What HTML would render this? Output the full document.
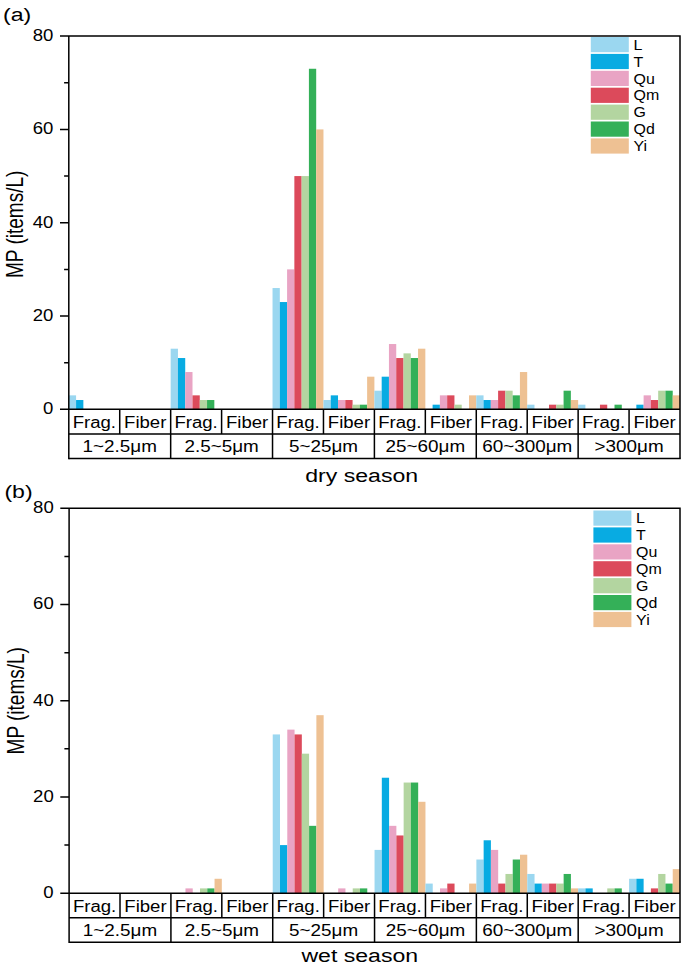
<!DOCTYPE html>
<html><head><meta charset="utf-8"><title>MP abundance by size</title>
<style>
html,body{margin:0;padding:0;background:#fff;}
body{width:685px;height:971px;overflow:hidden;}
svg{display:block;}
text{font-family:"Liberation Sans",sans-serif;fill:#000;}
</style></head>
<body>
<svg width="685" height="971" viewBox="0 0 685 971">
<rect width="685" height="971" fill="#fff"/>
<rect x="68.80" y="395.35" width="7.28" height="14.00" fill="#9BD7F0"/>
<rect x="76.08" y="400.02" width="7.28" height="9.33" fill="#08ABE2"/>
<rect x="170.67" y="348.70" width="7.28" height="60.65" fill="#9BD7F0"/>
<rect x="177.94" y="358.03" width="7.28" height="51.32" fill="#08ABE2"/>
<rect x="185.22" y="372.03" width="7.28" height="37.33" fill="#E9A4C4"/>
<rect x="192.50" y="395.35" width="7.28" height="14.00" fill="#DC4A5B"/>
<rect x="199.77" y="400.02" width="7.28" height="9.33" fill="#B3D5A0"/>
<rect x="207.05" y="400.02" width="7.28" height="9.33" fill="#34B058"/>
<rect x="272.53" y="288.04" width="7.28" height="121.31" fill="#9BD7F0"/>
<rect x="279.81" y="302.04" width="7.28" height="107.31" fill="#08ABE2"/>
<rect x="287.09" y="269.38" width="7.28" height="139.97" fill="#E9A4C4"/>
<rect x="294.36" y="176.07" width="7.28" height="233.28" fill="#DC4A5B"/>
<rect x="301.64" y="176.07" width="7.28" height="233.28" fill="#B3D5A0"/>
<rect x="308.91" y="68.76" width="7.28" height="340.59" fill="#34B058"/>
<rect x="316.19" y="129.41" width="7.28" height="279.94" fill="#EEC193"/>
<rect x="323.47" y="400.02" width="7.28" height="9.33" fill="#9BD7F0"/>
<rect x="330.74" y="395.35" width="7.28" height="14.00" fill="#08ABE2"/>
<rect x="338.02" y="400.02" width="7.28" height="9.33" fill="#E9A4C4"/>
<rect x="345.30" y="400.02" width="7.28" height="9.33" fill="#DC4A5B"/>
<rect x="352.57" y="404.68" width="7.28" height="4.67" fill="#B3D5A0"/>
<rect x="359.85" y="404.68" width="7.28" height="4.67" fill="#34B058"/>
<rect x="367.12" y="376.69" width="7.28" height="32.66" fill="#EEC193"/>
<rect x="374.40" y="390.69" width="7.28" height="18.66" fill="#9BD7F0"/>
<rect x="381.68" y="376.69" width="7.28" height="32.66" fill="#08ABE2"/>
<rect x="388.95" y="344.03" width="7.28" height="65.32" fill="#E9A4C4"/>
<rect x="396.23" y="358.03" width="7.28" height="51.32" fill="#DC4A5B"/>
<rect x="403.50" y="353.36" width="7.28" height="55.99" fill="#B3D5A0"/>
<rect x="410.78" y="358.03" width="7.28" height="51.32" fill="#34B058"/>
<rect x="418.06" y="348.70" width="7.28" height="60.65" fill="#EEC193"/>
<rect x="432.61" y="404.68" width="7.28" height="4.67" fill="#08ABE2"/>
<rect x="439.89" y="395.35" width="7.28" height="14.00" fill="#E9A4C4"/>
<rect x="447.16" y="395.35" width="7.28" height="14.00" fill="#DC4A5B"/>
<rect x="454.44" y="404.68" width="7.28" height="4.67" fill="#B3D5A0"/>
<rect x="468.99" y="395.35" width="7.28" height="14.00" fill="#EEC193"/>
<rect x="476.27" y="395.35" width="7.28" height="14.00" fill="#9BD7F0"/>
<rect x="483.54" y="400.02" width="7.28" height="9.33" fill="#08ABE2"/>
<rect x="490.82" y="400.02" width="7.28" height="9.33" fill="#E9A4C4"/>
<rect x="498.10" y="390.69" width="7.28" height="18.66" fill="#DC4A5B"/>
<rect x="505.37" y="390.69" width="7.28" height="18.66" fill="#B3D5A0"/>
<rect x="512.65" y="395.35" width="7.28" height="14.00" fill="#34B058"/>
<rect x="519.92" y="372.03" width="7.28" height="37.33" fill="#EEC193"/>
<rect x="527.20" y="404.68" width="7.28" height="4.67" fill="#9BD7F0"/>
<rect x="549.03" y="404.68" width="7.28" height="4.67" fill="#DC4A5B"/>
<rect x="556.30" y="404.68" width="7.28" height="4.67" fill="#B3D5A0"/>
<rect x="563.58" y="390.69" width="7.28" height="18.66" fill="#34B058"/>
<rect x="570.86" y="400.02" width="7.28" height="9.33" fill="#EEC193"/>
<rect x="578.13" y="404.68" width="7.28" height="4.67" fill="#9BD7F0"/>
<rect x="599.96" y="404.68" width="7.28" height="4.67" fill="#DC4A5B"/>
<rect x="614.51" y="404.68" width="7.28" height="4.67" fill="#34B058"/>
<rect x="636.34" y="404.68" width="7.28" height="4.67" fill="#08ABE2"/>
<rect x="643.62" y="395.35" width="7.28" height="14.00" fill="#E9A4C4"/>
<rect x="650.90" y="400.02" width="7.28" height="9.33" fill="#DC4A5B"/>
<rect x="658.17" y="390.69" width="7.28" height="18.66" fill="#B3D5A0"/>
<rect x="665.45" y="390.69" width="7.28" height="18.66" fill="#34B058"/>
<rect x="672.72" y="395.35" width="7.28" height="14.00" fill="#EEC193"/>
<rect x="590.80" y="37.00" width="38" height="15.2" fill="#9BD7F0"/>
<text transform="translate(633.50,49.70) scale(1.14,1)" font-size="14" text-anchor="start">L</text>
<rect x="590.80" y="53.90" width="38" height="15.2" fill="#08ABE2"/>
<text transform="translate(633.50,66.60) scale(1.14,1)" font-size="14" text-anchor="start">T</text>
<rect x="590.80" y="70.80" width="38" height="15.2" fill="#E9A4C4"/>
<text transform="translate(633.50,83.50) scale(1.14,1)" font-size="14" text-anchor="start">Qu</text>
<rect x="590.80" y="87.70" width="38" height="15.2" fill="#DC4A5B"/>
<text transform="translate(633.50,100.40) scale(1.14,1)" font-size="14" text-anchor="start">Qm</text>
<rect x="590.80" y="104.60" width="38" height="15.2" fill="#B3D5A0"/>
<text transform="translate(633.50,117.30) scale(1.14,1)" font-size="14" text-anchor="start">G</text>
<rect x="590.80" y="121.50" width="38" height="15.2" fill="#34B058"/>
<text transform="translate(633.50,134.20) scale(1.14,1)" font-size="14" text-anchor="start">Qd</text>
<rect x="590.80" y="138.40" width="38" height="15.2" fill="#EEC193"/>
<text transform="translate(633.50,151.10) scale(1.14,1)" font-size="14" text-anchor="start">Yi</text>
<g stroke="#000" stroke-width="1.5" fill="none" stroke-linecap="butt">
<path d="M60.00,36.10 H680.75 M680.00,36.10 V458.50 M68.80,35.35 V459.25"/>
<path d="M60.00,409.35 H680.00 M68.80,433.90 H680.00 M68.80,458.50 H680.75"/>
<path d="M60.00,316.04 H68.80 M60.00,222.73 H68.80 M60.00,129.41 H68.80 M64.10,362.69 H68.80 M64.10,269.38 H68.80 M64.10,176.07 H68.80 M64.10,82.76 H68.80 "/>
<path d="M119.73,409.35 V433.90 M170.67,409.35 V458.50 M221.60,409.35 V433.90 M272.53,409.35 V458.50 M323.47,409.35 V433.90 M374.40,409.35 V458.50 M425.33,409.35 V433.90 M476.27,409.35 V458.50 M527.20,409.35 V433.90 M578.13,409.35 V458.50 M629.07,409.35 V433.90 "/>
</g>
<text transform="translate(53.40,414.25) scale(1.16,1)" font-size="16" text-anchor="end">0</text>
<text transform="translate(53.40,320.94) scale(1.16,1)" font-size="16" text-anchor="end">20</text>
<text transform="translate(53.40,227.63) scale(1.16,1)" font-size="16" text-anchor="end">40</text>
<text transform="translate(53.40,134.31) scale(1.16,1)" font-size="16" text-anchor="end">60</text>
<text transform="translate(53.40,41.00) scale(1.16,1)" font-size="16" text-anchor="end">80</text>
<text transform="translate(94.27,427.62) scale(1.16,1)" font-size="16" text-anchor="middle">Frag.</text>
<text transform="translate(145.20,427.62) scale(1.16,1)" font-size="16" text-anchor="middle">Fiber</text>
<text transform="translate(196.13,427.62) scale(1.16,1)" font-size="16" text-anchor="middle">Frag.</text>
<text transform="translate(247.07,427.62) scale(1.16,1)" font-size="16" text-anchor="middle">Fiber</text>
<text transform="translate(298.00,427.62) scale(1.16,1)" font-size="16" text-anchor="middle">Frag.</text>
<text transform="translate(348.93,427.62) scale(1.16,1)" font-size="16" text-anchor="middle">Fiber</text>
<text transform="translate(399.87,427.62) scale(1.16,1)" font-size="16" text-anchor="middle">Frag.</text>
<text transform="translate(450.80,427.62) scale(1.16,1)" font-size="16" text-anchor="middle">Fiber</text>
<text transform="translate(501.73,427.62) scale(1.16,1)" font-size="16" text-anchor="middle">Frag.</text>
<text transform="translate(552.67,427.62) scale(1.16,1)" font-size="16" text-anchor="middle">Fiber</text>
<text transform="translate(603.60,427.62) scale(1.16,1)" font-size="16" text-anchor="middle">Frag.</text>
<text transform="translate(654.53,427.62) scale(1.16,1)" font-size="16" text-anchor="middle">Fiber</text>
<text transform="translate(119.73,452.20) scale(1.18,1)" font-size="16" text-anchor="middle">1~2.5μm</text>
<text transform="translate(221.60,452.20) scale(1.18,1)" font-size="16" text-anchor="middle">2.5~5μm</text>
<text transform="translate(323.47,452.20) scale(1.18,1)" font-size="16" text-anchor="middle">5~25μm</text>
<text transform="translate(425.33,452.20) scale(1.18,1)" font-size="16" text-anchor="middle">25~60μm</text>
<text transform="translate(527.20,452.20) scale(1.18,1)" font-size="16" text-anchor="middle">60~300μm</text>
<text transform="translate(629.07,452.20) scale(1.18,1)" font-size="16" text-anchor="middle">>300μm</text>
<text transform="translate(3.00,20.90) scale(1.215,1)" font-size="19" text-anchor="start">(a)</text>
<text transform="translate(361.70,481.90) scale(1.215,1)" font-size="19" text-anchor="middle">dry season</text>
<text transform="translate(23.05,224.33) scale(1.215,1) rotate(-90)" font-size="19" text-anchor="middle">MP (items/L)</text>
<rect x="185.46" y="888.39" width="7.27" height="4.81" fill="#E9A4C4"/>
<rect x="200.01" y="888.39" width="7.27" height="4.81" fill="#B3D5A0"/>
<rect x="207.28" y="888.39" width="7.27" height="4.81" fill="#34B058"/>
<rect x="214.55" y="878.77" width="7.27" height="14.43" fill="#EEC193"/>
<rect x="272.73" y="734.43" width="7.27" height="158.77" fill="#9BD7F0"/>
<rect x="280.01" y="845.09" width="7.27" height="48.11" fill="#08ABE2"/>
<rect x="287.28" y="729.62" width="7.27" height="163.58" fill="#E9A4C4"/>
<rect x="294.55" y="734.43" width="7.27" height="158.77" fill="#DC4A5B"/>
<rect x="301.82" y="753.67" width="7.27" height="139.53" fill="#B3D5A0"/>
<rect x="309.10" y="825.84" width="7.27" height="67.36" fill="#34B058"/>
<rect x="316.37" y="715.18" width="7.27" height="178.02" fill="#EEC193"/>
<rect x="338.19" y="888.39" width="7.27" height="4.81" fill="#E9A4C4"/>
<rect x="352.73" y="888.39" width="7.27" height="4.81" fill="#B3D5A0"/>
<rect x="360.00" y="888.39" width="7.27" height="4.81" fill="#34B058"/>
<rect x="374.55" y="849.90" width="7.27" height="43.30" fill="#9BD7F0"/>
<rect x="381.82" y="777.73" width="7.27" height="115.47" fill="#08ABE2"/>
<rect x="389.10" y="825.84" width="7.27" height="67.36" fill="#E9A4C4"/>
<rect x="396.37" y="835.47" width="7.27" height="57.73" fill="#DC4A5B"/>
<rect x="403.64" y="782.54" width="7.27" height="110.66" fill="#B3D5A0"/>
<rect x="410.91" y="782.54" width="7.27" height="110.66" fill="#34B058"/>
<rect x="418.19" y="801.79" width="7.27" height="91.41" fill="#EEC193"/>
<rect x="425.46" y="883.58" width="7.27" height="9.62" fill="#9BD7F0"/>
<rect x="440.00" y="888.39" width="7.27" height="4.81" fill="#E9A4C4"/>
<rect x="447.28" y="883.58" width="7.27" height="9.62" fill="#DC4A5B"/>
<rect x="469.09" y="883.58" width="7.27" height="9.62" fill="#EEC193"/>
<rect x="476.37" y="859.52" width="7.27" height="33.68" fill="#9BD7F0"/>
<rect x="483.64" y="840.28" width="7.27" height="52.92" fill="#08ABE2"/>
<rect x="490.91" y="849.90" width="7.27" height="43.30" fill="#E9A4C4"/>
<rect x="498.18" y="883.58" width="7.27" height="9.62" fill="#DC4A5B"/>
<rect x="505.46" y="873.96" width="7.27" height="19.25" fill="#B3D5A0"/>
<rect x="512.73" y="859.52" width="7.27" height="33.68" fill="#34B058"/>
<rect x="520.00" y="854.71" width="7.27" height="38.49" fill="#EEC193"/>
<rect x="527.27" y="873.96" width="7.27" height="19.25" fill="#9BD7F0"/>
<rect x="534.55" y="883.58" width="7.27" height="9.62" fill="#08ABE2"/>
<rect x="541.82" y="883.58" width="7.27" height="9.62" fill="#E9A4C4"/>
<rect x="549.09" y="883.58" width="7.27" height="9.62" fill="#DC4A5B"/>
<rect x="556.37" y="883.58" width="7.27" height="9.62" fill="#B3D5A0"/>
<rect x="563.64" y="873.96" width="7.27" height="19.25" fill="#34B058"/>
<rect x="570.91" y="888.39" width="7.27" height="4.81" fill="#EEC193"/>
<rect x="578.18" y="888.39" width="7.27" height="4.81" fill="#9BD7F0"/>
<rect x="585.46" y="888.39" width="7.27" height="4.81" fill="#08ABE2"/>
<rect x="607.27" y="888.39" width="7.27" height="4.81" fill="#B3D5A0"/>
<rect x="614.55" y="888.39" width="7.27" height="4.81" fill="#34B058"/>
<rect x="629.09" y="878.77" width="7.27" height="14.43" fill="#9BD7F0"/>
<rect x="636.36" y="878.77" width="7.27" height="14.43" fill="#08ABE2"/>
<rect x="650.91" y="888.39" width="7.27" height="4.81" fill="#DC4A5B"/>
<rect x="658.18" y="873.96" width="7.27" height="19.25" fill="#B3D5A0"/>
<rect x="665.45" y="883.58" width="7.27" height="9.62" fill="#34B058"/>
<rect x="672.73" y="869.14" width="7.27" height="24.06" fill="#EEC193"/>
<rect x="593.40" y="510.50" width="38" height="15.2" fill="#9BD7F0"/>
<text transform="translate(636.10,523.20) scale(1.14,1)" font-size="14" text-anchor="start">L</text>
<rect x="593.40" y="527.40" width="38" height="15.2" fill="#08ABE2"/>
<text transform="translate(636.10,540.10) scale(1.14,1)" font-size="14" text-anchor="start">T</text>
<rect x="593.40" y="544.30" width="38" height="15.2" fill="#E9A4C4"/>
<text transform="translate(636.10,557.00) scale(1.14,1)" font-size="14" text-anchor="start">Qu</text>
<rect x="593.40" y="561.20" width="38" height="15.2" fill="#DC4A5B"/>
<text transform="translate(636.10,573.90) scale(1.14,1)" font-size="14" text-anchor="start">Qm</text>
<rect x="593.40" y="578.10" width="38" height="15.2" fill="#B3D5A0"/>
<text transform="translate(636.10,590.80) scale(1.14,1)" font-size="14" text-anchor="start">G</text>
<rect x="593.40" y="595.00" width="38" height="15.2" fill="#34B058"/>
<text transform="translate(636.10,607.70) scale(1.14,1)" font-size="14" text-anchor="start">Qd</text>
<rect x="593.40" y="611.90" width="38" height="15.2" fill="#EEC193"/>
<text transform="translate(636.10,624.60) scale(1.14,1)" font-size="14" text-anchor="start">Yi</text>
<g stroke="#000" stroke-width="1.5" fill="none" stroke-linecap="butt">
<path d="M60.30,508.30 H680.75 M680.00,508.30 V942.20 M69.10,507.55 V942.95"/>
<path d="M60.30,893.20 H680.00 M69.10,917.80 H680.00 M69.10,942.20 H680.75"/>
<path d="M60.30,796.98 H69.10 M60.30,700.75 H69.10 M60.30,604.53 H69.10 M64.40,845.09 H69.10 M64.40,748.86 H69.10 M64.40,652.64 H69.10 M64.40,556.41 H69.10 "/>
<path d="M120.01,893.20 V917.80 M170.92,893.20 V942.20 M221.82,893.20 V917.80 M272.73,893.20 V942.20 M323.64,893.20 V917.80 M374.55,893.20 V942.20 M425.46,893.20 V917.80 M476.37,893.20 V942.20 M527.27,893.20 V917.80 M578.18,893.20 V942.20 M629.09,893.20 V917.80 "/>
</g>
<text transform="translate(53.70,898.10) scale(1.16,1)" font-size="16" text-anchor="end">0</text>
<text transform="translate(53.70,801.88) scale(1.16,1)" font-size="16" text-anchor="end">20</text>
<text transform="translate(53.70,705.65) scale(1.16,1)" font-size="16" text-anchor="end">40</text>
<text transform="translate(53.70,609.43) scale(1.16,1)" font-size="16" text-anchor="end">60</text>
<text transform="translate(53.70,513.20) scale(1.16,1)" font-size="16" text-anchor="end">80</text>
<text transform="translate(94.55,911.50) scale(1.16,1)" font-size="16" text-anchor="middle">Frag.</text>
<text transform="translate(145.46,911.50) scale(1.16,1)" font-size="16" text-anchor="middle">Fiber</text>
<text transform="translate(196.37,911.50) scale(1.16,1)" font-size="16" text-anchor="middle">Frag.</text>
<text transform="translate(247.28,911.50) scale(1.16,1)" font-size="16" text-anchor="middle">Fiber</text>
<text transform="translate(298.19,911.50) scale(1.16,1)" font-size="16" text-anchor="middle">Frag.</text>
<text transform="translate(349.10,911.50) scale(1.16,1)" font-size="16" text-anchor="middle">Fiber</text>
<text transform="translate(400.00,911.50) scale(1.16,1)" font-size="16" text-anchor="middle">Frag.</text>
<text transform="translate(450.91,911.50) scale(1.16,1)" font-size="16" text-anchor="middle">Fiber</text>
<text transform="translate(501.82,911.50) scale(1.16,1)" font-size="16" text-anchor="middle">Frag.</text>
<text transform="translate(552.73,911.50) scale(1.16,1)" font-size="16" text-anchor="middle">Fiber</text>
<text transform="translate(603.64,911.50) scale(1.16,1)" font-size="16" text-anchor="middle">Frag.</text>
<text transform="translate(654.55,911.50) scale(1.16,1)" font-size="16" text-anchor="middle">Fiber</text>
<text transform="translate(120.01,936.00) scale(1.18,1)" font-size="16" text-anchor="middle">1~2.5μm</text>
<text transform="translate(221.82,936.00) scale(1.18,1)" font-size="16" text-anchor="middle">2.5~5μm</text>
<text transform="translate(323.64,936.00) scale(1.18,1)" font-size="16" text-anchor="middle">5~25μm</text>
<text transform="translate(425.46,936.00) scale(1.18,1)" font-size="16" text-anchor="middle">25~60μm</text>
<text transform="translate(527.27,936.00) scale(1.18,1)" font-size="16" text-anchor="middle">60~300μm</text>
<text transform="translate(629.09,936.00) scale(1.18,1)" font-size="16" text-anchor="middle">>300μm</text>
<text transform="translate(4.40,497.70) scale(1.215,1)" font-size="19" text-anchor="start">(b)</text>
<text transform="translate(359.80,962.10) scale(1.215,1)" font-size="19" text-anchor="middle">wet season</text>
<text transform="translate(24.15,700.75) scale(1.215,1) rotate(-90)" font-size="19" text-anchor="middle">MP (items/L)</text>
</svg>
</body></html>
